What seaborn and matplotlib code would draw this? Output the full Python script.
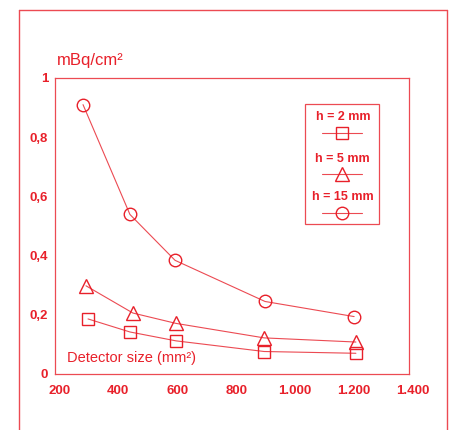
import matplotlib
matplotlib.use("Agg")
import matplotlib.pyplot as plt
import seaborn as sns
import pandas as pd
from matplotlib.lines import Line2D
from matplotlib.patches import Rectangle

sns.set_style("white")
plt.rcParams['font.family'] = ['Liberation Sans', 'DejaVu Sans']

RED = '#e8202a'
LRED = '#ec4a52'

size_2 = [298, 440, 596, 895, 1206]
val_2 = [0.186, 0.142, 0.112, 0.076, 0.070]
size_5 = [291, 450, 596, 895, 1206]
val_5 = [0.298, 0.206, 0.171, 0.122, 0.108]
size_15 = [281, 440, 593, 898, 1200]
val_15 = [0.910, 0.539, 0.384, 0.245, 0.194]
series = ['h = 2 mm', 'h = 5 mm', 'h = 15 mm']
xticks = [200, 400, 600, 800, 1000, 1200, 1400]
xticklabels = ['200', '400', '600', '800', '1.000', '1.200', '1.400']
yticks = [0, 0.2, 0.4, 0.6, 0.8, 1]
yticklabels = ['0', '0,2', '0,4', '0,6', '0,8', '1']

df = pd.DataFrame({
    'size': size_2 + size_5 + size_15,
    'val': val_2 + val_5 + val_15,
    'h': [series[0]] * 5 + [series[1]] * 5 + [series[2]] * 5,
})
markers = {series[0]: 's', series[1]: '^', series[2]: 'o'}
msizes = {series[0]: 8.5, series[1]: 10.5, series[2]: 9}

fig = plt.figure(figsize=(4.5, 4.3), dpi=100)
ax = fig.add_axes([55/450, 1-374/430, 354/450, 296/430])

for s in series:
    sub = df[df['h'] == s]
    sns.lineplot(data=sub, x='size', y='val', ax=ax, color=LRED, lw=0.8,
                 marker=markers[s], markersize=msizes[s], markerfacecolor='none',
                 markeredgecolor=RED, markeredgewidth=1.0, legend=False)

TL = 9.5
ax.set_xlim(186, 1386)
ax.set_ylim(0, 1)
ax.set_xticks(xticks[:-1])
ax.set_xticklabels(xticklabels[:-1])
ax.annotate(xticklabels[-1], xy=(xticks[-1], 0), xycoords='data',
            xytext=(0, -8), textcoords='offset points', ha='center', va='top',
            color=RED, fontsize=TL, fontweight='bold', annotation_clip=False)
ax.set_yticks(yticks)
ax.set_yticklabels(yticklabels)
ax.set_yticks([0.1, 0.3, 0.5, 0.7, 0.9], minor=True)
ax.tick_params(axis='x', direction='in', length=5, width=0.9, color=LRED,
               labelcolor=RED, labelsize=TL, pad=8)
ax.tick_params(axis='y', which='major', direction='in', length=11, width=0.9,
               color=LRED, labelcolor=RED, labelsize=TL, pad=5)
ax.tick_params(axis='y', which='minor', direction='in', length=6, width=0.9, color=LRED)
for lab in ax.get_xticklabels() + ax.get_yticklabels():
    lab.set_fontweight('bold')
for sp in ax.spines.values():
    sp.set_color(LRED)
    sp.set_linewidth(0.9)
ax.set_xlabel('')
ax.set_ylabel('')

ax.text(0.035, 0.055, 'Detector size (mm²)', transform=ax.transAxes, color=RED,
        fontsize=10.5, ha='left', va='center')
fig.text(57/450, 1-61/430, 'mBq/cm²', color=RED, fontsize=12, ha='left',
         va='center')

# manual legend (label above marker)
ax.add_patch(Rectangle((0.706, 0.507), 0.209, 0.405, transform=ax.transAxes,
                       fill=False, edgecolor=LRED, lw=0.9))
leg_text_y = [0.868, 0.726, 0.598]
leg_mark_y = [0.814, 0.676, 0.544]
for s, ty, my in zip(series, leg_text_y, leg_mark_y):
    ax.text(0.813, ty, s, transform=ax.transAxes, color=RED, fontsize=9,
            fontweight='bold', ha='center', va='center')
    ax.add_line(Line2D([0.754, 0.867], [my, my], transform=ax.transAxes,
                       color=LRED, lw=0.8))
    ax.add_line(Line2D([0.811], [my], transform=ax.transAxes, marker=markers[s],
                       markersize=msizes[s], markerfacecolor='none',
                       markeredgecolor=RED, markeredgewidth=1.0, ls='none'))

# outer frame
for xs, ys in [([19/450, 19/450], [0, 1-10/430]),
               ([447/450, 447/450], [0, 1-10/430]),
               ([19/450, 447/450], [1-10/430, 1-10/430])]:
    fig.add_artist(Line2D(xs, ys, color=LRED, lw=1.0))

fig.savefig('out.png', dpi=100)
